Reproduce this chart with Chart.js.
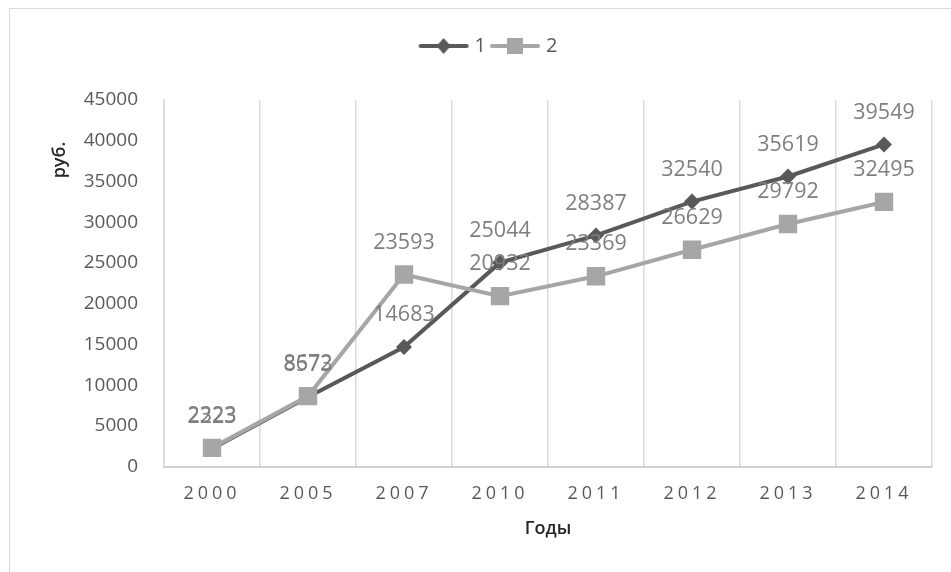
<!DOCTYPE html>
<html>
<head>
<meta charset="utf-8">
<script src="https://cdn.jsdelivr.net/npm/chart.js@4/dist/chart.umd.min.js"></script>
<style>
  html, body { margin: 0; padding: 0; background: #fff; }
  #wrap { position: relative; width: 951px; height: 572px; overflow: hidden; }
  #frame { position: absolute; left: 9px; top: 8px; width: 960px; height: 600px; border: 1px solid #d9d9d9; }
  canvas { position: absolute; left: 0; top: 0; }
</style>
</head>
<body>
<div id="wrap">
  <div id="frame"></div>
  <canvas id="chart" width="951" height="572"></canvas>
</div>
<script>
(function() {
    'use strict';

    var years = ['2000', '2005', '2007', '2010', '2011', '2012', '2013', '2014'];
    var series1 = [2223, 8573, 14683, 25044, 28387, 32540, 35619, 39549];
    var series2 = [2323, 8672, 23593, 20932, 23369, 26629, 29792, 32495];
    var seriesNames = ['1', '2'];

    var dark = '#595959',
        light = '#a6a6a6',
        fontName = '"Open Sans", "DejaVu Sans", sans-serif';

    // legend swatch: short line with the marker in the middle
    function swatch(color, kind) {
        var c = document.createElement('canvas');
        c.width = 52;
        c.height = 20;
        var g = c.getContext('2d');
        g.strokeStyle = color;
        g.lineWidth = 4;
        g.lineCap = 'round';
        g.beginPath();
        g.moveTo(3, 10);
        g.lineTo(49, 10);
        g.stroke();
        g.fillStyle = color;
        if (kind === 'diamond') {
            g.beginPath();
            g.moveTo(26, 2); g.lineTo(33, 10); g.lineTo(26, 18); g.lineTo(19, 10);
            g.closePath();
            g.fill();
        } else {
            g.fillRect(18, 2, 16, 16);
        }
        return c;
    }

    var valueLabels = {
        id: 'valueLabels',
        afterDatasetsDraw: function(chart) {
            var ctx = chart.ctx;
            ctx.save();
            ctx.font = '21.5px ' + fontName;
            ctx.fillStyle = '#7f7f7f';
            ctx.textAlign = 'center';
            ctx.textBaseline = 'middle';
            chart.data.datasets.forEach(function(ds, i) {
                var meta = chart.getDatasetMeta(i);
                meta.data.forEach(function(pt, j) {
                    ctx.fillText(String(ds.data[j]), pt.x, pt.y - 32);
                });
            });
            ctx.restore();
        }
    };

    var yTitle = {
        id: 'yTitle',
        afterDraw: function(chart) {
            var ctx = chart.ctx;
            ctx.save();
            ctx.translate(60, 160);
            ctx.rotate(-Math.PI / 2);
            ctx.font = '600 18px ' + fontName;
            ctx.fillStyle = '#262626';
            ctx.textAlign = 'center';
            ctx.textBaseline = 'middle';
            ctx.fillText('руб.', 0, 0);
            ctx.restore();
        }
    };

    // spaced-out year labels like the original, plus extra room under the legend
    var tweaks = {
        id: 'tweaks',
        afterInit: function(chart) {
            var lg = chart.legend;
            var fit = lg.fit;
            lg.fit = function() {
                fit.call(this);
                this.height += 34;
            };
        },
        beforeDraw: function(chart) {
            var sc = chart.scales.x;
            if (sc._spaced) return;
            var orig = sc.drawLabels;
            sc.drawLabels = function(area) {
                chart.ctx.save();
                chart.ctx.letterSpacing = '4px';
                orig.call(this, area);
                chart.ctx.restore();
            };
            sc._spaced = true;
        }
    };

    var chart = new Chart(document.getElementById('chart'), {
        type: 'line',
        data: {
            labels: years,
            datasets: [{
                label: seriesNames[0],
                data: series1,
                borderColor: dark,
                backgroundColor: dark,
                borderWidth: 4,
                pointStyle: 'rectRot',
                pointRadius: 8,
                pointHoverRadius: 8,
                pointBorderWidth: 0,
                tension: 0,
                order: 1
            }, {
                label: seriesNames[1],
                data: series2,
                borderColor: light,
                backgroundColor: light,
                borderWidth: 4,
                pointStyle: 'rect',
                pointRadius: 13,
                pointHoverRadius: 13,
                pointBorderWidth: 0,
                tension: 0,
                order: 0
            }]
        },
        options: {
            responsive: false,
            animation: false,
            layout: { padding: { left: 48, right: 19, top: 28, bottom: 32 } },
            plugins: {
                tooltip: { enabled: false },
                legend: {
                    position: 'top',
                    labels: {
                        usePointStyle: true,
                        pointStyleWidth: 42,
                        color: dark,
                        font: { family: fontName, size: 20 },
                        padding: 8,
                        generateLabels: function(ch) {
                            return [
                                { text: seriesNames[0], pointStyle: swatch(dark, 'diamond'), fontColor: dark, datasetIndex: 0, lineWidth: 0 },
                                { text: seriesNames[1], pointStyle: swatch(light, 'square'), fontColor: dark, datasetIndex: 1, lineWidth: 0 }
                            ];
                        }
                    }
                }
            },
            scales: {
                x: {
                    offset: true,
                    grid: { display: true, color: '#d9d9d9', lineWidth: 1.5, drawTicks: false, offset: true },
                    border: { display: true, color: '#d0d0d0', width: 2 },
                    ticks: { color: dark, font: { family: fontName, size: 18 }, padding: 16 },
                    title: {
                        display: true,
                        text: 'Годы',
                        color: '#262626',
                        font: { family: fontName, size: 18, weight: '600' },
                        padding: { top: -2, bottom: 0 }
                    }
                },
                y: {
                    min: 0,
                    max: 45000,
                    afterFit: function(s) { s.width = 116; },
                    grid: { display: false, drawTicks: false },
                    border: { display: true, color: '#d9d9d9', width: 1.5 },
                    ticks: {
                        stepSize: 5000,
                        color: dark,
                        font: { family: fontName, size: 19 },
                        padding: 26,
                        callback: function(v) { return String(v); }
                    }
                }
            }
        },
        plugins: [valueLabels, yTitle, tweaks]
    });
})();
</script>
</body>
</html>
